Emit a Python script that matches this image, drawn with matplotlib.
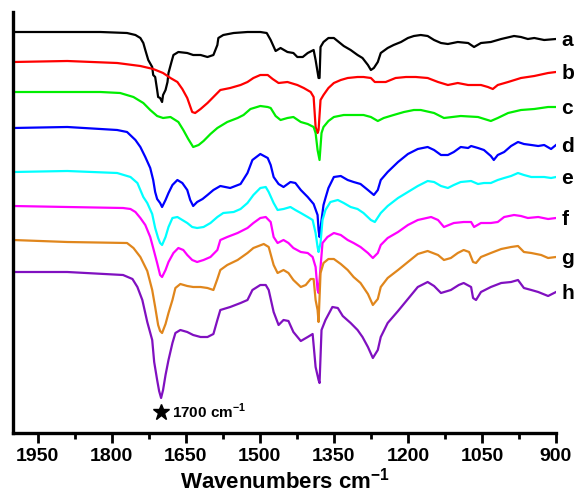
import numpy as np
import matplotlib
matplotlib.use("Agg")
from matplotlib import pyplot as plt

plt.rcParams['font.family'] = ['Liberation Sans', 'DejaVu Sans']
plt.rcParams['mathtext.fontset'] = 'custom'
plt.rcParams['mathtext.rm'] = 'Liberation Sans:bold'
plt.rcParams['mathtext.bf'] = 'Liberation Sans:bold'

# FTIR spectra, stacked (wavenumber in cm-1, transmittance in a.u. incl. offset)
wn_a = [2000, 1905, 1823, 1769, 1752, 1742, 1736, 1732, 1726, 1718, 1716, 1712, 1708, 1706, 1702, 1698,
        1696, 1691, 1687, 1685, 1679, 1675, 1665, 1647, 1635, 1620, 1606, 1594, 1586, 1584, 1574, 1553,
        1525, 1499, 1486, 1478, 1468, 1458, 1444, 1432, 1424, 1413, 1403, 1391, 1387, 1381, 1379, 1377,
        1371, 1361, 1350, 1340, 1330, 1316, 1302, 1292, 1281, 1275, 1269, 1261, 1255, 1241, 1229, 1214,
        1200, 1188, 1174, 1160, 1147, 1133, 1119, 1099, 1078, 1066, 1052, 1032, 1011, 985, 971, 957,
        944, 924, 900]
t_a = [408, 408, 408, 407, 405, 402, 397, 390, 380, 373, 365, 363, 350, 343, 342, 338,
       345, 350, 358, 367, 378, 385, 388, 387, 385, 385, 383, 385, 395, 402, 405, 407,
       408, 408, 407, 400, 389, 392, 388, 387, 383, 383, 387, 390, 380, 362, 362, 393,
       398, 402, 402, 398, 394, 390, 385, 382, 375, 370, 372, 378, 387, 392, 395, 398,
       402, 404, 405, 404, 400, 397, 396, 398, 397, 393, 397, 398, 401, 404, 403, 401,
       402, 400, 401]

wn_b = [2000, 1890, 1789, 1742, 1716, 1696, 1681, 1667, 1657, 1647, 1637, 1631, 1620, 1606, 1594, 1580,
        1560, 1539, 1525, 1513, 1499, 1484, 1474, 1462, 1444, 1424, 1411, 1397, 1391, 1387, 1383, 1381,
        1377, 1371, 1361, 1350, 1336, 1322, 1302, 1290, 1275, 1267, 1245, 1225, 1204, 1184, 1160, 1139,
        1119, 1099, 1078, 1052, 1038, 1028, 1018, 997, 971, 944, 916, 900]
t_b = [378, 379, 377, 374, 371, 367, 362, 358, 351, 342, 328, 327, 331, 337, 343, 350,
       352, 355, 358, 362, 365, 365, 361, 357, 358, 355, 352, 348, 343, 313, 307, 310,
       340, 345, 352, 357, 360, 362, 363, 363, 362, 358, 358, 362, 363, 363, 362, 358,
       355, 357, 355, 355, 353, 351, 355, 358, 362, 364, 367, 368]

wn_c = [2000, 1823, 1783, 1756, 1736, 1722, 1708, 1696, 1681, 1665, 1655, 1645, 1635, 1624, 1614, 1600,
        1586, 1566, 1545, 1533, 1519, 1499, 1484, 1478, 1468, 1458, 1444, 1432, 1417, 1403, 1391, 1387,
        1383, 1379, 1375, 1371, 1361, 1350, 1330, 1310, 1290, 1275, 1261, 1249, 1229, 1208, 1188, 1174,
        1147, 1127, 1093, 1058, 1032, 1018, 997, 971, 944, 916, 900]
t_c = [348, 348, 347, 343, 337, 330, 324, 322, 323, 318, 310, 301, 293, 295, 299, 306,
       312, 318, 322, 325, 331, 334, 333, 332, 324, 320, 322, 323, 318, 316, 313, 307,
       290, 280, 307, 313, 319, 323, 325, 325, 325, 323, 319, 322, 325, 328, 330, 330,
       327, 322, 324, 323, 319, 322, 327, 330, 331, 333, 333]

wn_d = [2000, 1890, 1789, 1769, 1752, 1742, 1732, 1722, 1716, 1712, 1708, 1702, 1698, 1691, 1685, 1677,
        1667, 1657, 1647, 1641, 1635, 1627, 1616, 1606, 1594, 1580, 1560, 1539, 1525, 1515, 1499, 1484,
        1478, 1472, 1462, 1452, 1438, 1428, 1417, 1403, 1391, 1383, 1381, 1379, 1375, 1371, 1367, 1361,
        1350, 1336, 1322, 1310, 1296, 1281, 1269, 1261, 1255, 1241, 1220, 1200, 1180, 1160, 1147, 1133,
        1119, 1107, 1093, 1078, 1072, 1058, 1046, 1032, 1026, 1018, 1005, 991, 977, 965, 950, 936,
        924, 910, 900]
t_d = [312, 313, 310, 308, 300, 293, 283, 272, 260, 248, 241, 237, 233, 240, 247, 255,
       260, 257, 250, 240, 234, 238, 241, 245, 250, 254, 252, 256, 267, 280, 286, 282,
       275, 263, 256, 253, 258, 257, 250, 243, 236, 225, 210, 203, 220, 235, 242, 252,
       263, 264, 260, 258, 256, 250, 245, 250, 260, 268, 278, 286, 291, 293, 290, 285,
       285, 288, 293, 292, 294, 292, 290, 284, 280, 285, 288, 294, 298, 296, 295, 294,
       295, 291, 295]

wn_e = [2000, 1890, 1789, 1762, 1748, 1736, 1728, 1718, 1712, 1706, 1702, 1698, 1691, 1685, 1677, 1667,
        1657, 1647, 1637, 1627, 1614, 1600, 1586, 1574, 1553, 1539, 1525, 1513, 1499, 1488, 1482, 1472,
        1464, 1452, 1438, 1428, 1417, 1403, 1393, 1387, 1383, 1381, 1377, 1373, 1367, 1357, 1342, 1330,
        1316, 1302, 1290, 1275, 1267, 1255, 1241, 1220, 1200, 1180, 1160, 1147, 1133, 1119, 1107, 1093,
        1072, 1058, 1046, 1032, 1018, 1005, 991, 977, 965, 950, 936, 924, 910, 900]
t_e = [268, 269, 267, 263, 257, 243, 237, 226, 212, 202, 197, 195, 203, 213, 222, 223,
       220, 217, 213, 212, 213, 217, 223, 227, 228, 231, 237, 245, 252, 253, 248, 237,
       230, 231, 233, 230, 227, 223, 220, 207, 193, 188, 197, 220, 230, 238, 240, 237,
       233, 231, 227, 220, 218, 227, 234, 242, 248, 254, 259, 258, 254, 252, 255, 258,
       259, 256, 257, 257, 260, 262, 264, 267, 265, 263, 263, 263, 262, 263]

wn_f = [2000, 1890, 1777, 1762, 1752, 1742, 1732, 1722, 1716, 1708, 1702, 1698, 1691, 1685, 1675, 1665,
        1655, 1647, 1637, 1627, 1614, 1600, 1586, 1580, 1566, 1545, 1525, 1513, 1499, 1488, 1478, 1472,
        1464, 1452, 1442, 1432, 1417, 1403, 1393, 1387, 1383, 1381, 1377, 1373, 1363, 1350, 1336, 1322,
        1310, 1296, 1281, 1271, 1261, 1255, 1241, 1220, 1200, 1180, 1153, 1139, 1127, 1107, 1087, 1072,
        1066, 1052, 1032, 1018, 1005, 985, 971, 957, 936, 916, 900]
t_f = [234, 233, 232, 231, 228, 222, 215, 203, 192, 177, 165, 163, 170, 178, 187, 192,
       190, 185, 180, 178, 180, 183, 190, 200, 203, 207, 212, 217, 222, 223, 218, 203,
       197, 200, 197, 192, 188, 187, 183, 173, 150, 147, 173, 197, 203, 207, 205, 200,
       197, 193, 187, 182, 187, 195, 202, 208, 215, 220, 223, 220, 213, 217, 218, 218,
       213, 217, 217, 218, 223, 225, 224, 222, 223, 221, 222]

wn_g = [2000, 1890, 1769, 1756, 1742, 1728, 1718, 1712, 1706, 1702, 1698, 1691, 1685, 1677, 1671, 1661,
        1647, 1635, 1620, 1606, 1594, 1586, 1580, 1566, 1545, 1525, 1513, 1492, 1482, 1472, 1464, 1452,
        1442, 1432, 1417, 1407, 1397, 1391, 1387, 1383, 1381, 1377, 1371, 1361, 1350, 1336, 1322, 1310,
        1296, 1281, 1271, 1261, 1255, 1241, 1220, 1200, 1180, 1160, 1139, 1127, 1113, 1099, 1087, 1076,
        1068, 1062, 1052, 1032, 1011, 991, 977, 965, 950, 930, 916, 900]
t_g = [200, 198, 197, 192, 183, 169, 150, 133, 115, 109, 107, 116, 127, 140, 152, 156,
       154, 153, 153, 152, 150, 161, 170, 175, 180, 187, 192, 196, 193, 175, 167, 170,
       167, 160, 153, 155, 161, 161, 140, 130, 118, 167, 177, 181, 181, 176, 170, 163,
       157, 146, 135, 141, 153, 162, 170, 178, 186, 189, 185, 180, 182, 187, 190, 188,
       178, 177, 183, 187, 191, 193, 194, 188, 187, 185, 182, 183]

wn_h = [2000, 1890, 1777, 1758, 1748, 1738, 1728, 1718, 1714, 1708, 1704, 1700, 1696, 1691, 1685, 1677,
        1671, 1661, 1647, 1635, 1620, 1606, 1594, 1586, 1580, 1560, 1539, 1525, 1515, 1499, 1488, 1482,
        1472, 1462, 1452, 1442, 1432, 1417, 1403, 1393, 1387, 1381, 1379, 1375, 1367, 1353, 1342, 1332,
        1316, 1302, 1292, 1281, 1271, 1261, 1255, 1241, 1220, 1200, 1180, 1160, 1147, 1133, 1113, 1097,
        1087, 1072, 1068, 1062, 1052, 1032, 1011, 991, 977, 965, 950, 936, 916, 900]
t_h = [168, 168, 165, 161, 153, 140, 118, 100, 78, 60, 49, 42, 50, 65, 80, 97,
       107, 110, 108, 105, 103, 103, 106, 120, 130, 133, 137, 140, 150, 155, 155, 150,
       128, 115, 120, 119, 108, 99, 103, 106, 73, 60, 57, 110, 120, 133, 132, 124,
       117, 110, 103, 93, 82, 90, 103, 117, 129, 141, 153, 158, 154, 147, 150, 155,
       157, 153, 142, 140, 148, 153, 157, 158, 160, 152, 150, 148, 144, 148]

spectra = [(wn_a, t_a), (wn_b, t_b), (wn_c, t_c), (wn_d, t_d),
           (wn_e, t_e), (wn_f, t_f), (wn_g, t_g), (wn_h, t_h)]
labels = ['a', 'b', 'c', 'd', 'e', 'f', 'g', 'h']
colors = ['#000000', '#ff0000', '#00ee00', '#0000ff',
          '#00ffff', '#ff00ff', '#e0861c', '#8010c0']

xticks = [1950, 1800, 1650, 1500, 1350, 1200, 1050, 900]
peak_wn = 1700

fig = plt.figure(figsize=(5.76, 4.94), dpi=100)
ax = fig.add_axes([13 / 576, 61 / 494, 543 / 576, 421 / 494])

for (wn, t), lab, c in zip(spectra, labels, colors):
    ax.plot(wn, t, color=c, lw=1.6)
    ax.annotate(lab, xy=(wn[-1], t[-1]), xytext=(4, -1), textcoords='offset points',
                ha='left', va='center', fontsize=15, fontweight='bold',
                annotation_clip=False)

# mark the C=O band
ax.plot(peak_wn, 28, marker='*', ms=12, color='k', clip_on=False)
ax.text(peak_wn - 22, 29, r'1700 cm$^{\mathrm{-1}}$', ha='left', va='center',
        fontsize=11, fontweight='bold')

ax.set_xlim(2000, 900)
ax.set_ylim(7, 428)
ax.set_xticks(xticks)
ax.set_xticks(np.arange(1875, 900, -150), minor=True)
ax.set_yticks([])
ax.tick_params(axis='x', which='major', direction='out', length=7, width=2, pad=4,
               labelsize=14)
ax.tick_params(axis='x', which='minor', direction='out', length=4, width=2)
for lbl in ax.get_xticklabels():
    lbl.set_fontweight('bold')

ax.spines['top'].set_visible(False)
ax.spines['right'].set_visible(False)
ax.spines['left'].set_linewidth(2.4)
ax.spines['bottom'].set_linewidth(2.4)

ax.set_xlabel(r'Wavenumbers cm$^{\mathrm{-1}}$', fontsize=16, fontweight='bold', labelpad=2)

fig.savefig('out.png', dpi=100)
